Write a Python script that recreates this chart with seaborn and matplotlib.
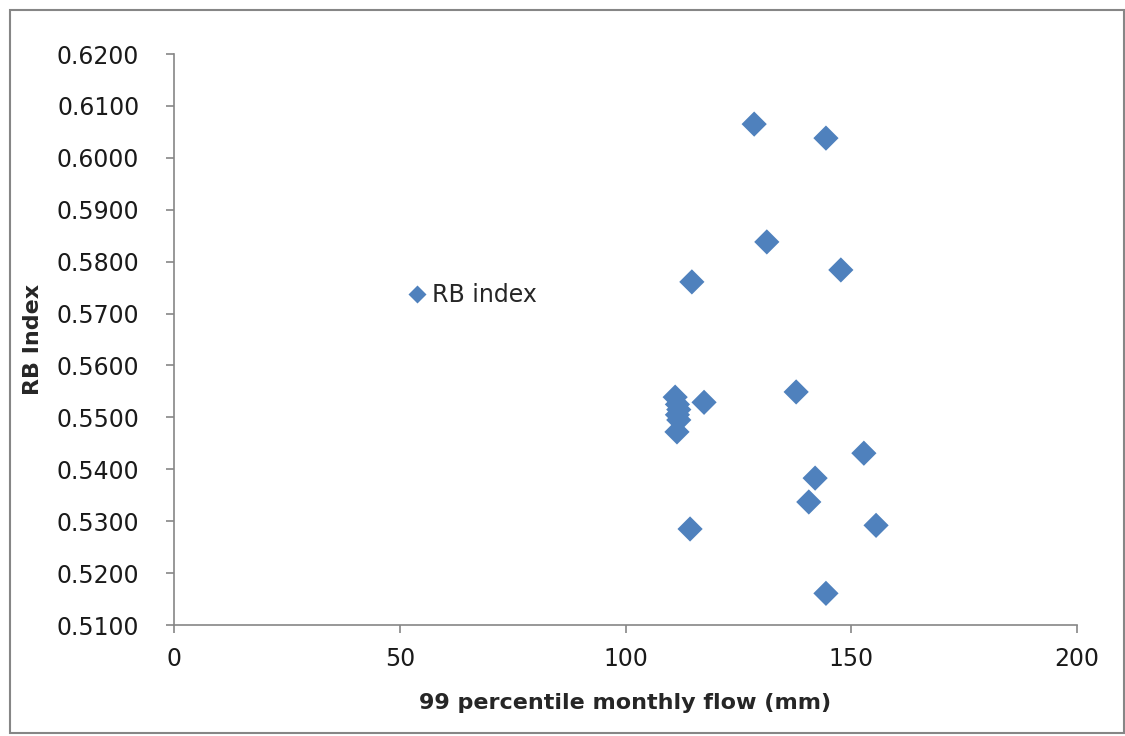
import numpy as np
import pandas as pd
import matplotlib
matplotlib.use("Agg")
import matplotlib.pyplot as plt
import seaborn as sns
from matplotlib.patches import Rectangle

# data
flow_mm = [128.5, 144.4, 131.3, 147.7, 114.7, 137.8, 117.4,
           111.0, 111.5, 111.8, 111.5, 111.8, 111.4,
           152.8, 142.0, 140.6, 155.5, 114.3, 144.4]
rb_index = [0.6065, 0.6038, 0.5838, 0.5784, 0.5761, 0.5549, 0.5529,
            0.5539, 0.5525, 0.5515, 0.5505, 0.5495, 0.5472,
            0.5431, 0.5383, 0.5337, 0.5292, 0.5285, 0.5161]
x_ticks = [0, 50, 100, 150, 200]
y_ticks = [0.51, 0.52, 0.53, 0.54, 0.55, 0.56, 0.57, 0.58, 0.59, 0.60, 0.61, 0.62]

df = pd.DataFrame({"flow": flow_mm, "rb": rb_index, "series": "RB index"})

sns.set_style("white")
plt.rcParams['font.family'] = ['DejaVu Sans']

fig = plt.figure(figsize=(11.25, 7.36), dpi=100)
ax = fig.add_axes([0.1547, 0.1508, 0.8026, 0.7758])

sns.scatterplot(data=df, x="flow", y="rb", hue="series", palette=["#4F81BD"],
                marker="D", s=165, edgecolor="none", ax=ax)

ax.set_xlim(0, 200)
ax.set_ylim(0.51, 0.62)
ax.set_xticks(x_ticks)
ax.set_yticks(y_ticks)
ax.set_yticklabels([f"{v:.4f}" for v in y_ticks])
ax.tick_params(axis="both", labelsize=17, length=6, width=1.2, color="#868686",
               direction="out", left=True, bottom=True, colors="#868686",
               labelcolor="#1a1a1a", pad=10)
ax.tick_params(axis="y", pad=19)
for side in ["top", "right"]:
    ax.spines[side].set_visible(False)
for side in ["left", "bottom"]:
    ax.spines[side].set_color("#868686")
    ax.spines[side].set_linewidth(1.2)

ax.set_xlabel("99 percentile monthly flow (mm)", fontsize=16, fontweight="bold", labelpad=16)
ax.set_ylabel("RB Index", fontsize=16, fontweight="bold", labelpad=10)

leg = ax.legend(loc="center left", bbox_to_anchor=(0.233, 0.578), frameon=False,
                fontsize=17, handletextpad=0.1, handlelength=1.0, markerscale=0.72)

# outer chart frame
fig.patches.append(Rectangle((0.009, 0.004), 0.99, 0.982, transform=fig.transFigure,
                             fill=False, edgecolor="#868686", linewidth=1.5))

plt.savefig("out.png", dpi=100)
